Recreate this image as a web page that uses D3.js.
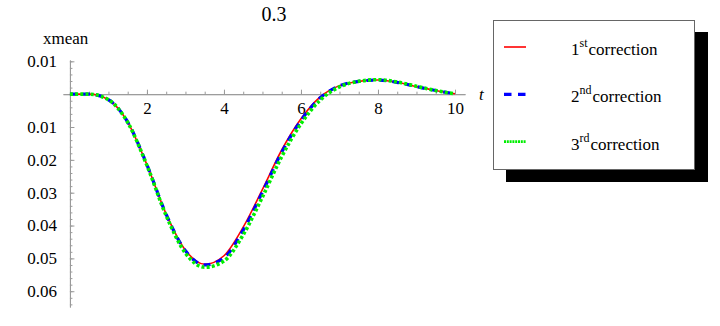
<!DOCTYPE html>
<html><body style="margin:0;background:#fff">
<svg width="720" height="326" font-family="Liberation Serif"></svg>
<script src="https://d3js.org/d3.v7.min.js"></script>
<script>

    // values
    var tValues = [0, 0.5, 1, 1.5, 2, 2.5, 3, 3.5, 4, 4.5, 5, 5.5, 6, 6.5, 7, 7.5, 8, 8.5, 9, 9.5, 10];
    var firstCorr = [0, 0, -0.0017, -0.0085, -0.0215, -0.0365, -0.0475, -0.0518, -0.0492, -0.0405, -0.0290,
        -0.0170, -0.0075, -0.0008, 0.0026, 0.0039, 0.0043, 0.0036, 0.0023, 0.0011, 0.0001];
    var secondCorr = [0, 0, -0.0017, -0.0085, -0.0215, -0.0366, -0.0477, -0.0520, -0.0498, -0.0414, -0.0298,
        -0.0177, -0.0080, -0.0011, 0.0025, 0.0039, 0.0043, 0.0036, 0.0023, 0.0011, 0.0001];
    var thirdCorr = [0, 0, -0.0017, -0.0086, -0.0217, -0.0370, -0.0484, -0.0527, -0.0508, -0.0428, -0.0313,
        -0.0190, -0.0090, -0.0018, 0.0022, 0.0039, 0.0044, 0.0037, 0.0024, 0.0011, 0.0001];

    var xTicks = [2, 4, 6, 8, 10];
    var yTicks = [0.01, -0.01, -0.02, -0.03, -0.04, -0.05, -0.06];
    var legendNums = ["1", "2", "3"];
    var legendSups = ["st", "nd", "rd"];
    var legendText = "correction";
    var title = "0.3";

    var serif = "\"Liberation Serif\"";

    var svg = d3.select("svg");

    var x = d3.scaleLinear()
        .domain([-0.18, 10.26])
        .range([63, 465]);

    var y = d3.scaleLinear()
        .domain([-0.0648, 0.0104])
        .range([307, 60]);

    function serifText(sel, size) {
        return sel.attr("font-family", "Liberation Serif")
            .style("font-family", serif)
            .attr("font-size", size);
    }

    // minor ticks first, majors on top
    svg.append("g")
        .attr("transform", "translate(0," + y(0) + ")")
        .call(d3.axisBottom(x).tickValues(d3.range(0.5, 10.01, 0.5)).tickSize(-2.5).tickSizeOuter(0).tickFormat(""));

    svg.append("g")
        .attr("class", "xmajor")
        .attr("transform", "translate(0," + y(0) + ")")
        .call(d3.axisBottom(x).tickValues(xTicks).tickSize(-4.5).tickSizeOuter(0).tickPadding(8));

    svg.append("g")
        .attr("transform", "translate(" + x(0) + ",0)")
        .call(d3.axisLeft(y).tickValues(d3.range(-0.064, 0.0101, 0.002)).tickSize(-2.5).tickSizeOuter(0).tickFormat(""));

    svg.append("g")
        .attr("class", "ymajor")
        .attr("transform", "translate(" + x(0) + ",0)")
        .call(d3.axisLeft(y).tickValues(yTicks).tickSize(-4.5).tickSizeOuter(0).tickPadding(13)
            .tickFormat(function(d) { return d3.format(".2f")(Math.abs(d)); }));

    svg.selectAll("path.domain, .tick line").attr("stroke", "#9a9a9a");
    svg.selectAll(".xmajor, .ymajor").attr("font-family", null);
    serifText(svg.selectAll(".tick text"), 17).attr("fill", "#000");

    // labels
    serifText(svg.append("text"), 17)
        .attr("x", 43).attr("y", 44)
        .text("xmean");

    serifText(svg.append("text"), 17)
        .attr("x", x(10) + 24).attr("y", y(0) + 6)
        .attr("font-style", "italic")
        .text("t");

    serifText(svg.append("text"), 20)
        .attr("x", 274).attr("y", 21)
        .attr("text-anchor", "middle")
        .text(title);

    // curves
    var series = [
        {vals: firstCorr, color: "#ff0000", width: 1.6, dash: null},
        {vals: secondCorr, color: "#0000ff", width: 3.2, dash: "7,6"},
        {vals: thirdCorr, color: "#00ee00", width: 3.6, dash: "3,2.2"}
    ];

    var line = d3.line()
        .curve(d3.curveMonotoneX)
        .x(function(d, i) { return x(tValues[i]); })
        .y(function(d) { return y(d); });

    series.forEach(function(s) {
        svg.append("path")
            .datum(s.vals)
            .attr("fill", "none")
            .attr("stroke", s.color)
            .attr("stroke-width", s.width)
            .attr("stroke-dasharray", s.dash)
            .attr("d", line);
    });

    // legend
    var lg = svg.append("g").attr("transform", "translate(493,20)");
    lg.append("rect")
        .attr("x", 13).attr("y", 12)
        .attr("width", 202).attr("height", 150)
        .attr("fill", "#000");
    lg.append("rect")
        .attr("x", 0.5).attr("y", 0.5)
        .attr("width", 201).attr("height", 149)
        .attr("fill", "#fff")
        .attr("stroke", "#666");

    var legendStyles = [
        {color: "#ff0000", width: 1.6, dash: null},
        {color: "#0000ff", width: 3.2, dash: "7.5,6.5"},
        {color: "#00ee00", width: 2.6, dash: "2,0.8"}
    ];

    legendNums.forEach(function(n, i) {
        var ly = 27 + i * 47.3;
        lg.append("line")
            .attr("x1", 11).attr("x2", 33)
            .attr("y1", ly).attr("y2", ly)
            .attr("stroke", legendStyles[i].color)
            .attr("stroke-width", legendStyles[i].width)
            .attr("stroke-dasharray", legendStyles[i].dash);

        var t = serifText(lg.append("text"), 17)
            .attr("x", 78).attr("y", ly + 8);
        t.append("tspan").text(n);
        t.append("tspan").attr("font-size", 12).attr("dy", -8).text(legendSups[i]);
        t.append("tspan").attr("dy", 8).attr("dx", 1).text(legendText);
    });

</script>
</body></html>
